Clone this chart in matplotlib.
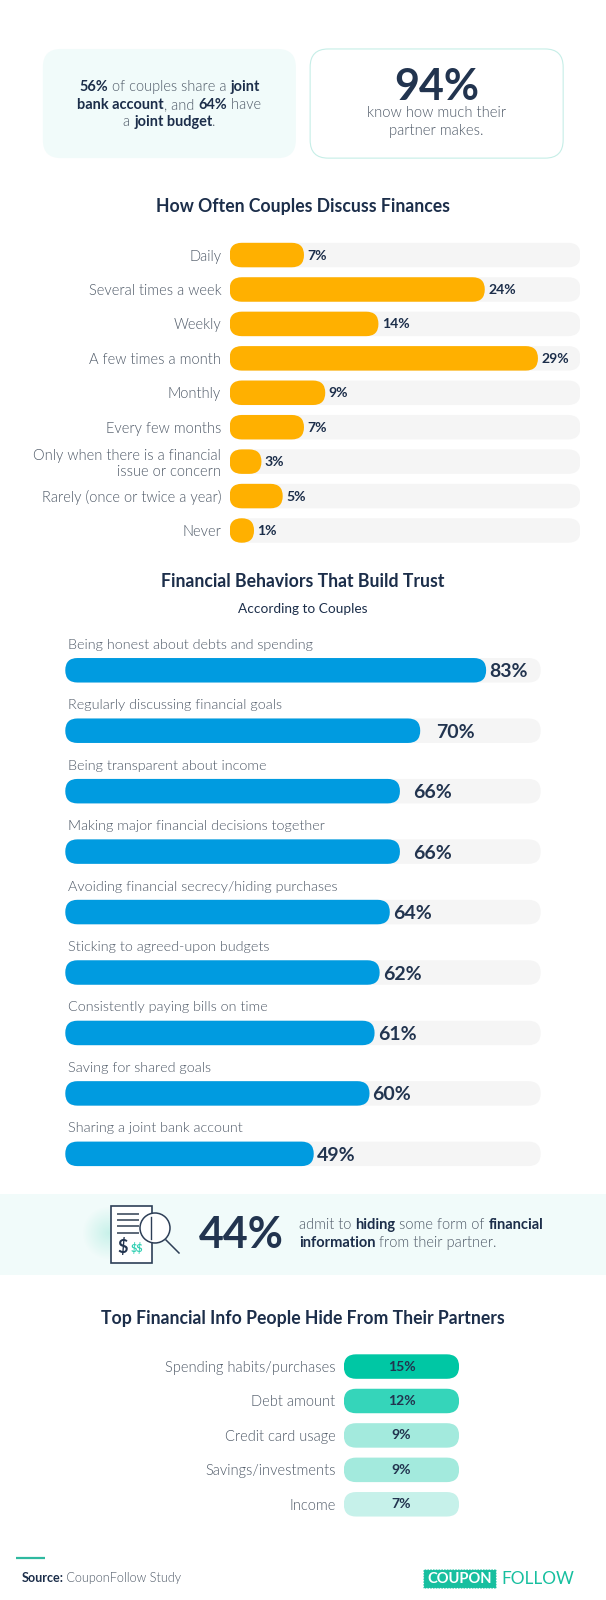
import matplotlib
matplotlib.use("Agg")
import matplotlib.pyplot as plt
from matplotlib.patches import FancyBboxPatch, Rectangle, Circle
import numpy as np

plt.rcParams['font.family'] = ['Lato', 'DejaVu Sans']

W, H = 606, 1600
NAVY = '#1C2E4A'
GREY = '#4D5866'
LIGHT = 300
S = 606 / 594

freq_labels = ['Daily', 'Several times a week', 'Weekly', 'A few times a month', 'Monthly',
               'Every few months', 'Only when there is a financial\nissue or concern',
               'Rarely (once or twice a year)', 'Never']
freq_values = [7, 24, 14, 29, 9, 7, 3, 5, 1]

trust_labels = ['Being honest about debts and spending', 'Regularly discussing financial goals',
                'Being transparent about income', 'Making major financial decisions together',
                'Avoiding financial secrecy/hiding purchases', 'Sticking to agreed-upon budgets',
                'Consistently paying bills on time', 'Saving for shared goals',
                'Sharing a joint bank account']
trust_values = [83, 70, 66, 66, 64, 62, 61, 60, 49]

hide_labels = ['Spending habits/purchases', 'Debt amount', 'Credit card usage',
               'Savings/investments', 'Income']
hide_values = [15, 12, 9, 9, 7]
hide_colors = ['#00C7A4', '#35D5BA', '#A3EADD', '#A3EADD', '#C6F1EA']

fig = plt.figure(figsize=(W / 100, H / 100), dpi=100, facecolor='white')
bg = fig.add_axes([0, 0, 1, 1])
bg.set_xlim(0, W)
bg.set_ylim(H, 0)
bg.axis('off')


def pt(px):
    return px * 0.72


def rbox(ax, x, y, w, h, r, **kw):
    p = FancyBboxPatch((x, y), w, h, boxstyle=f'round,pad=0,rounding_size={r}', **kw)
    ax.add_patch(p)
    return p


def rich(ax, cx, y, parts, size, color=NAVY, align='center'):
    """parts: list of (text, bold). Laid out on one line."""
    r = fig.canvas.get_renderer()
    arts = []
    tot = 0
    for t, b in parts:
        t = t.replace(' ', '\u00a0')
        a = ax.text(0, y, t, fontsize=pt(size), color=NAVY if b else color,
                    fontweight='bold' if b else LIGHT, va='center_baseline', ha='left', zorder=5)
        w = a.get_window_extent(r).width
        arts.append((a, w))
        tot += w
    x = cx - tot / 2 if align == 'center' else cx
    for a, w in arts:
        a.set_x(x)
        x += w


def sub_axes(x0, x1, y0, y1):
    ax = fig.add_axes([x0 / W, 1 - y1 / H, (x1 - x0) / W, (y1 - y0) / H])
    ax.patch.set_alpha(0)
    for s in ax.spines.values():
        s.set_visible(False)
    ax.tick_params(length=0)
    ax.set_xticks([])
    return ax


def pills(ax, x0, widths, ys, bar_h, px_per_x, px_per_y, colors):
    """Rounded bars in data units, radius is half of the height."""
    r_x = bar_h * px_per_y / 2 / px_per_x
    aspect = px_per_x / px_per_y
    for w, y, c in zip(widths, ys, colors):
        w = max(w, 2 * r_x)
        p = FancyBboxPatch((x0, y - bar_h / 2), w, bar_h,
                           boxstyle=f'round,pad=0,rounding_size={r_x}',
                           mutation_aspect=aspect, fc=c, ec='none')
        ax.add_patch(p)


# ---- top cards
rbox(bg, 42 * S, 48 * S, 248 * S, 107 * S, 18, fc='#F1FBFA', ec='none')
rbox(bg, 304 * S, 48 * S, 248 * S, 107 * S, 18, fc='white', ec='#C6EEE7', lw=0.8)

c1 = 166 * S
rich(bg, c1, 84 * S, [('56%', True), (' of couples share a ', False), ('joint', True)], 14.5, GREY)
rich(bg, c1, 101 * S, [('bank account', True), (', and ', False), ('64%', True), (' have', False)], 14.5, GREY)
rich(bg, c1, 118 * S, [('a ', False), ('joint budget', True), ('.', False)], 14.5, GREY)

c2 = 428 * S
bg.text(c2, 85.5 * S, '94%', fontsize=pt(43), fontweight='bold', color='#22344F', ha='center', va='center')
bg.text(c2, 111 * S, 'know how much their', fontsize=pt(14.7), fontweight=LIGHT, color=GREY, ha='center', va='center')
bg.text(c2, 128 * S, 'partner makes.', fontsize=pt(14.7), fontweight=LIGHT, color=GREY, ha='center', va='center')

# ---- titles
for y, t in [(202.5, 'How Often Couples Discuss Finances'), (569.5, 'Financial Behaviors That Build Trust'),
             (1292.5, 'Top Financial Info People Hide From Their Partners')]:
    bg.text(297 * S, y * S, t, fontsize=pt(17.6), fontweight='bold', color=NAVY, ha='center', va='center')
bg.text(297 * S, 596.5 * S, 'According to Couples', fontsize=pt(13.6), fontweight='normal', color=NAVY, ha='center', va='center')

# ---- chart 1
rows1 = np.arange(len(freq_values))
step1 = 33.75 * S
xa, xb = 225 * S, 569 * S
ax1 = sub_axes(xa, xb, 250 * S - step1 / 2, 250 * S + step1 * 8.5)
ax1.set_xlim(0, 33)
ax1.set_ylim(len(rows1) - 0.5, -0.5)
ppx, ppy = (xb - xa) / 33, step1
bh = 24 * S / step1
pills(ax1, 0, [33] * len(rows1), rows1, bh, ppx, ppy, ['#F5F5F5'] * len(rows1))
pills(ax1, 0, freq_values, rows1, bh, ppx, ppy, ['#FFB000'] * len(rows1))
ax1.set_yticks(rows1)
ax1.set_yticklabels(freq_labels, fontsize=pt(14.6), fontweight=LIGHT, color=GREY, linespacing=1.2)
for lab in ax1.get_yticklabels():
    lab.set_multialignment('right')
ax1.tick_params(axis='y', pad=6)
for y, v in zip(rows1, freq_values):
    w_px = max(v * ppx, 24 * S)
    ax1.annotate(f'{v}%', (0, y), xytext=(w_px + 3.5, -0.5), textcoords='offset pixels', fontsize=pt(14),
                 fontweight='bold', color=NAVY, va='center', ha='left')

# ---- chart 2
rows2 = np.arange(len(trust_values))
step2 = 59.25 * S
xa, xb = 64 * S, 530 * S
ax2 = sub_axes(xa, xb, 657 * S - step2 / 2, 657 * S + step2 * 8.5)
xmax = 466 / 4.97
ax2.set_xlim(0, xmax)
ax2.set_ylim(len(rows2) - 0.5, -0.5)
ax2.set_yticks([])
ppx, ppy = (xb - xa) / xmax, step2
bh = 24 * S / step2
pills(ax2, 0, [xmax] * len(rows2), rows2, bh, ppx, ppy, ['#F5F5F5'] * len(rows2))
pills(ax2, 0, trust_values, rows2, bh, ppx, ppy, ['#009BE0'] * len(rows2))
for i, (y, v, lab) in enumerate(zip(rows2, trust_values, trust_labels)):
    off = {70: 16, 66: 13}.get(v, 3)
    ax2.annotate(f'{v}%', (v, y), xytext=(off * S, -1.5), textcoords='offset pixels', fontsize=pt(19.5),
                 fontweight='bold', color='#22344F', va='center', ha='left')
    ax2.annotate(lab, (0, y), xytext=(3 * S, 25 * S), textcoords='offset pixels', fontsize=pt(14.4),
                 fontweight=LIGHT, color=GREY, va='center', ha='left')

# ---- band
bg.add_patch(Rectangle((0, 1170 * S), W, 80 * S, fc='#F1FBFA', ec='none'))
yy, xx = np.mgrid[-1:1:60j, -1:1:60j]
alpha = np.clip(1 - np.sqrt(xx ** 2 + yy ** 2), 0, 1) * 0.5
rgba = np.zeros((60, 60, 4))
rgba[..., :3] = matplotlib.colors.to_rgb('#9FE8DA')
rgba[..., 3] = alpha
bg.imshow(rgba, extent=(82, 136, 1260, 1206), aspect='auto', zorder=1)
bg.set_xlim(0, W)
bg.set_ylim(H, 0)

# icon (pixels)
LN = '#2E3F57'
bg.add_patch(Rectangle((110.7, 1206), 41, 57, fc='white', ec=LN, lw=1.2, zorder=2))
for y in (1214, 1220, 1226, 1233):
    bg.plot([118, 138], [y, y], color='#5B6777', lw=1.4, zorder=3)
bg.add_patch(Circle((155, 1228), 15, fc='white', ec=LN, lw=1.1, zorder=4))
bg.plot([151, 151], [1217, 1239], color=LN, lw=1.0, zorder=5)
bg.plot([166, 179], [1240, 1253], color=LN, lw=1.1, zorder=5)
bg.text(123, 1247, '\\$', fontsize=pt(18), fontweight='bold', color='#22344F', ha='center', va='center', zorder=5)
bg.text(137, 1247.5, '\\$\\$', fontsize=pt(11), fontweight='bold', color='#2FCFB2', ha='center', va='center', zorder=5)

bg.text(237 * S, 1211 * S, '44%', fontsize=pt(43), fontweight='bold', color='#22344F', ha='center', va='center', zorder=5)
rich(bg, 293 * S, 1199 * S, [('admit to ', False), ('hiding', True), (' some form of ', False), ('financial', True)], 14.6, GREY, align='left')
rich(bg, 293 * S, 1216.5 * S, [('information', True), (' from their partner.', False)], 14.6, GREY, align='left')

# ---- chart 3
rows3 = np.arange(len(hide_values))
step3 = 33.75 * S
xa, xb = 337 * S, 450 * S
ax3 = sub_axes(xa, xb, 1339.5 * S - step3 / 2, 1339.5 * S + step3 * 4.5)
ax3.set_xlim(0, 1)
ax3.set_ylim(len(rows3) - 0.5, -0.5)
ppx, ppy = xb - xa, step3
bh = 24 * S / step3
pills(ax3, 0, [1] * len(rows3), rows3, bh, ppx, ppy, hide_colors)
ax3.set_yticks(rows3)
ax3.set_yticklabels(hide_labels, fontsize=pt(14.6), fontweight=LIGHT, color=GREY)
ax3.tick_params(axis='y', pad=6)
for y, v in zip(rows3, hide_values):
    ax3.text(0.5, y, f'{v}%', fontsize=pt(14), fontweight='bold', color='#22344F', ha='center', va='center')

# ---- footer
bg.plot([16 * S, 44 * S], [1527 * S, 1527 * S], color='#2FB9A0', lw=1.6, solid_capstyle='butt')
rich(bg, 21 * S, 1546 * S, [('Source:', True), (' CouponFollow Study', False)], 12.6, GREY, align='left')
bg.add_patch(Rectangle((423, 1569), 73, 19, fc='#17BF9F', ec='white', lw=0.8, ls=(0, (1, 1.5))))
bg.text(459.5, 1579, 'COUPON', fontsize=pt(14.8), fontweight='bold', color='white', ha='center', va='center')
bg.text(501, 1579, 'FOLLOW', fontsize=pt(17.2), fontweight='normal', color='#17BF9F', ha='left', va='center')

fig.savefig('out.png', dpi=100, facecolor='white')
